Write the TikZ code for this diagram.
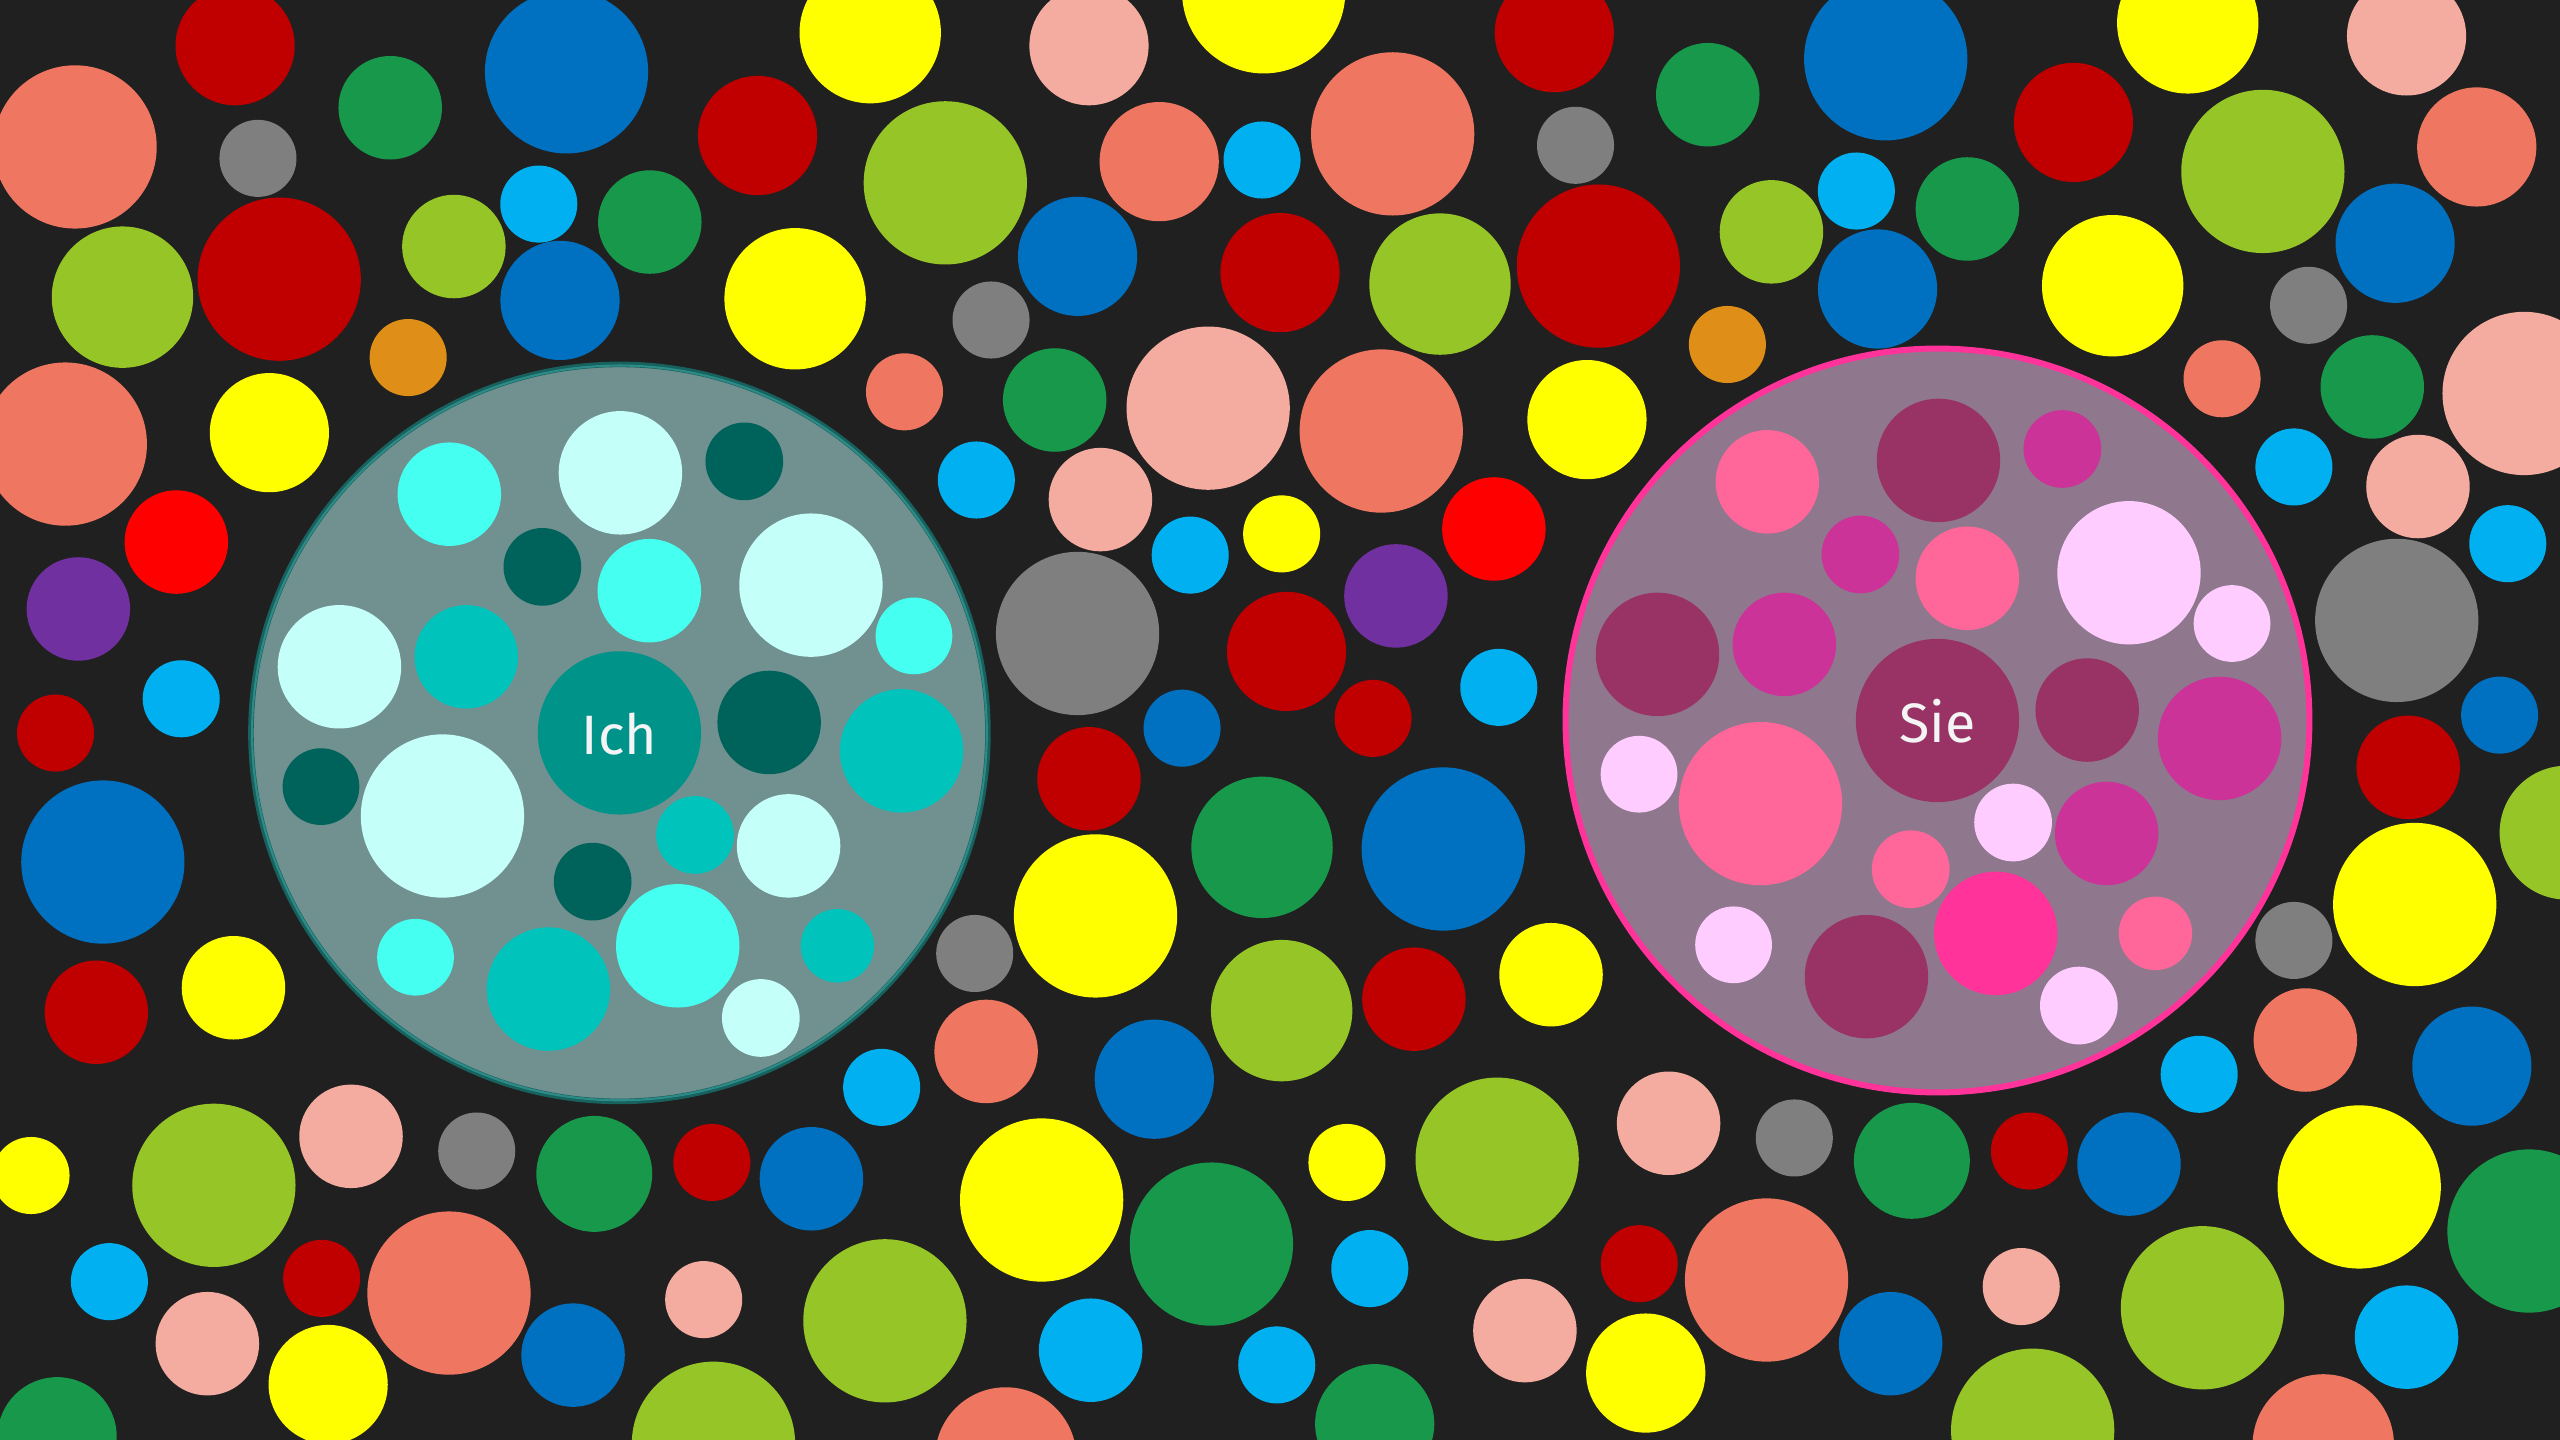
\documentclass[tikz,border=0pt]{standalone}
\usepackage{fontspec}
\newfontfamily\labelfont{Fira Sans}
\usetikzlibrary{positioning}

\definecolor{bgdark}{HTML}{202020}
\definecolor{sal}{HTML}{EF7762}
\definecolor{pale}{HTML}{F4ACA0}
\definecolor{dred}{HTML}{C00000}
\definecolor{bred}{HTML}{FF0000}
\definecolor{yel}{HTML}{FFFF00}
\definecolor{lgrn}{HTML}{95C526}
\definecolor{grn}{HTML}{18984A}
\definecolor{blu}{HTML}{0070C0}
\definecolor{lblu}{HTML}{00B0F0}
\definecolor{gry}{HTML}{7F7F7F}
\definecolor{org}{HTML}{DF8F18}
\definecolor{pur}{HTML}{7030A0}
% Ich
\definecolor{ichfill}{HTML}{719090}
\definecolor{ichrim}{HTML}{17625E}
\definecolor{ichrimlight}{HTML}{2C8B86}
\definecolor{ichcore}{HTML}{00938A}
\definecolor{ichA}{HTML}{C4FFFA}
\definecolor{ichB}{HTML}{45FFF0}
\definecolor{ichC}{HTML}{00C4BC}
\definecolor{ichD}{HTML}{00635B}
% Sie
\definecolor{siefill}{HTML}{8F788E}
\definecolor{sierim}{HTML}{FF3399}
\definecolor{sieA}{HTML}{FFCCFF}
\definecolor{sieB}{HTML}{FF6699}
\definecolor{sieC}{HTML}{CC3399}
\definecolor{sieD}{HTML}{993366}
\definecolor{sieE}{HTML}{FF3399}
\definecolor{labelwhite}{HTML}{F4F4F4}

\tikzset{
  lbl/.style={text=labelwhite, inner sep=0pt, font=\labelfont\fontsize{34}{40}\selectfont},
  ichring/.style={fill=ichfill, draw=ichrim, line width=3.4pt},
  siering/.style={fill=siefill, draw=sierim, line width=3.7pt}
}

\begin{document}
\begin{tikzpicture}[x=1pt, y=-1pt]
\path[use as bounding box] (0,0) rectangle (1568,882);
\clip (0,0) rectangle (1568,882);
\fill[bgdark] (0,0) rectangle (1568,882);

% salmon
\fill[sal] (46,90) circle (50);
\fill[sal] (40,272) circle (50);
\fill[sal] (275,792) circle (50);
\fill[sal] (616,893) circle (43.3);
\fill[sal] (604,644) circle (31.7);
\fill[sal] (554,240) circle (23.6);
\fill[sal] (710,99) circle (36.5);
\fill[sal] (853,82) circle (50);
\fill[sal] (846,264) circle (50);
\fill[sal] (1082,784) circle (50);
\fill[sal] (1423,885) circle (43.3);
\fill[sal] (1412,637) circle (31.7);
\fill[sal] (1361,232) circle (23.6);
\fill[sal] (1517,90) circle (36.5);
% pale
\fill[pale] (215,696) circle (31.7);
\fill[pale] (127,823) circle (31.7);
\fill[pale] (431,796) circle (23.6);
\fill[pale] (667,28) circle (36.5);
\fill[pale] (674,306) circle (31.7);
\fill[pale] (740,250) circle (50);
\fill[pale] (1022,688) circle (31.7);
\fill[pale] (934,815) circle (31.7);
\fill[pale] (1238,788) circle (23.6);
\fill[pale] (1474,22) circle (36.5);
\fill[pale] (1481,298) circle (31.7);
\fill[pale] (1546,241) circle (50);
% dark red
\fill[dred] (144,28) circle (36.5);
\fill[dred] (171,171) circle (50);
\fill[dred] (34,449) circle (23.6);
\fill[dred] (59,620) circle (31.7);
\fill[dred] (436,712) circle (23.6);
\fill[dred] (197,783) circle (23.6);
\fill[dred] (464,83) circle (36.5);
\fill[dred] (784,167) circle (36.5);
\fill[dred] (667,477) circle (31.7);
\fill[dred] (788,399) circle (36.5);
\fill[dred] (841,440) circle (23.6);
\fill[dred] (866,612) circle (31.7);
\fill[dred] (952,20) circle (36.5);
\fill[dred] (979,163) circle (50);
\fill[dred] (1004,774) circle (23.6);
\fill[dred] (1243,705) circle (23.6);
\fill[dred] (1270,75) circle (36.5);
\fill[dred] (1475,470) circle (31.7);
% red
\fill[bred] (108,332) circle (31.7);
\fill[bred] (915,324) circle (31.7);
% yellow
\fill[yel] (165,265) circle (36.5);
\fill[yel] (143,605) circle (31.7);
\fill[yel] (19,720) circle (23.6);
\fill[yel] (201,848) circle (36.5);
\fill[yel] (533,20) circle (43.3);
\fill[yel] (487,183) circle (43.3);
\fill[yel] (638,735) circle (50);
\fill[yel] (671,561) circle (50);
\fill[yel] (774,-5) circle (50);
\fill[yel] (785,327) circle (23.6);
\fill[yel] (825,712) circle (23.6);
\fill[yel] (950,597) circle (31.7);
\fill[yel] (972,257) circle (36.5);
\fill[yel] (1008,841) circle (36.5);
\fill[yel] (1294,175) circle (43.3);
\fill[yel] (1340,14) circle (43.3);
\fill[yel] (1445,727) circle (50);
\fill[yel] (1479,554) circle (50);
% light green
\fill[lgrn] (75,182) circle (43.3);
\fill[lgrn] (278,151) circle (31.7);
\fill[lgrn] (131,726) circle (50);
\fill[lgrn] (437,884) circle (50);
\fill[lgrn] (542,809) circle (50);
\fill[lgrn] (579,112) circle (50);
\fill[lgrn] (785,619) circle (43.3);
\fill[lgrn] (882,174) circle (43.3);
\fill[lgrn] (917,710) circle (50);
\fill[lgrn] (1085,142) circle (31.7);
\fill[lgrn] (1245,876) circle (50);
\fill[lgrn] (1349,801) circle (50);
\fill[lgrn] (1386,105) circle (50);
\fill[lgrn] (1572,510) circle (41);
% green
\fill[grn] (239,66) circle (31.7);
\fill[grn] (398,136) circle (31.7);
\fill[grn] (364,719) circle (35.5);
\fill[grn] (35,880) circle (36.5);
\fill[grn] (646,245) circle (31.7);
\fill[grn] (742,762) circle (50);
\fill[grn] (773,519) circle (43.3);
\fill[grn] (842,872) circle (36.5);
\fill[grn] (1046,58) circle (31.7);
\fill[grn] (1205,128) circle (31.7);
\fill[grn] (1171,711) circle (35.5);
\fill[grn] (1453,237) circle (31.7);
\fill[grn] (1549,754) circle (50);
% blue
\fill[blu] (347,44) circle (50);
\fill[blu] (343,184) circle (36.5);
\fill[blu] (63,528) circle (50);
\fill[blu] (497,722) circle (31.7);
\fill[blu] (351,830) circle (31.7);
\fill[blu] (660,157) circle (36.5);
\fill[blu] (707,661) circle (36.5);
\fill[blu] (724,446) circle (23.6);
\fill[blu] (884,520) circle (50);
\fill[blu] (1155,36) circle (50);
\fill[blu] (1150,177) circle (36.5);
\fill[blu] (1158,823) circle (31.7);
\fill[blu] (1304,713) circle (31.7);
\fill[blu] (1467,149) circle (36.5);
\fill[blu] (1514,653) circle (36.5);
\fill[blu] (1531,438) circle (23.6);
% light blue
\fill[lblu] (330,125) circle (23.6);
\fill[lblu] (111,428) circle (23.6);
\fill[lblu] (67,785) circle (23.6);
\fill[lblu] (540,666) circle (23.6);
\fill[lblu] (598,294) circle (23.6);
\fill[lblu] (668,827) circle (31.7);
\fill[lblu] (729,340) circle (23.6);
\fill[lblu] (773,98) circle (23.6);
\fill[lblu] (782,836) circle (23.6);
\fill[lblu] (839,777) circle (23.6);
\fill[lblu] (918,421) circle (23.6);
\fill[lblu] (1137,117) circle (23.6);
\fill[lblu] (1347,658) circle (23.6);
\fill[lblu] (1405,286) circle (23.6);
\fill[lblu] (1474,819) circle (31.7);
\fill[lblu] (1536,333) circle (23.6);
% gray
\fill[gry] (158,97) circle (23.6);
\fill[gry] (292,705) circle (23.6);
\fill[gry] (597,584) circle (23.6);
\fill[gry] (607,196) circle (23.6);
\fill[gry] (660,388) circle (50);
\fill[gry] (965,89) circle (23.6);
\fill[gry] (1099,697) circle (23.6);
\fill[gry] (1405,576) circle (23.6);
\fill[gry] (1414,187) circle (23.6);
\fill[gry] (1468,380) circle (50);
% orange, purple
\fill[org] (250,219) circle (23.6);
\fill[org] (1058,211) circle (23.6);
\fill[pur] (48,373) circle (31.7);
\fill[pur] (855,365) circle (31.7);

% Ich
\begin{scope}[shift={(379.4,448.9)}]
\path[ichring] (0,0) circle (225.7);
\draw[ichrimlight, line width=1.3pt] (0,0) circle (225);
\fill[ichB] (-104.2,-146.2) circle (31.7);
\fill[ichA] (0.6,-159.3) circle (37.8);
\fill[ichD] (76.5,-166.3) circle (23.8);
\fill[ichD] (-47.2,-101.7) circle (23.8);
\fill[ichB] (18.3,-87.1) circle (31.7);
\fill[ichA] (117.3,-90.5) circle (43.9);
\fill[ichB] (180.4,-59.4) circle (23.5);
\fill[ichA] (-171.5,-40.5) circle (37.8);
\fill[ichC] (-93.8,-46.6) circle (31.7);
\fill[ichD] (91.7,-6.4) circle (31.7);
\fill[ichC] (172.8,11) circle (37.8);
\fill[ichD] (-182.8,32.9) circle (23.5);
\fill[ichA] (-108.4,50.9) circle (50);
\fill[ichC] (46.3,62.5) circle (23.8);
\fill[ichA] (103.6,69.2) circle (31.7);
\fill[ichD] (-16.4,91.1) circle (23.8);
\fill[ichB] (35.7,130.4) circle (37.8);
\fill[ichB] (-124.9,137.4) circle (23.5);
\fill[ichC] (-43.5,156.9) circle (37.8);
\fill[ichC] (133.5,130.4) circle (22.5);
\fill[ichA] (86.6,174.6) circle (23.8);
\fill[ichcore] (0,0) circle (50);
\end{scope}
\node[lbl] (ich) at (379.4,449.5) {Ich};

% Sie
\begin{scope}[shift={(1186.7,441.3)}]
\path[siering] (0,0) circle (227.8);
\fill[sieB] (-104.2,-146.2) circle (31.7);
\fill[sieD] (0.6,-159.3) circle (37.8);
\fill[sieC] (76.5,-166.3) circle (23.8);
\fill[sieC] (-47.2,-101.7) circle (23.8);
\fill[sieB] (18.3,-87.1) circle (31.7);
\fill[sieA] (117.3,-90.5) circle (43.9);
\fill[sieA] (180.4,-59.4) circle (23.5);
\fill[sieD] (-171.5,-40.5) circle (37.8);
\fill[sieC] (-93.8,-46.6) circle (31.7);
\fill[sieD] (91.7,-6.4) circle (31.7);
\fill[sieC] (172.8,11) circle (37.8);
\fill[sieA] (-182.8,32.9) circle (23.5);
\fill[sieB] (-108.4,50.9) circle (50);
\fill[sieA] (46.3,62.5) circle (23.8);
\fill[sieC] (103.6,69.2) circle (31.7);
\fill[sieB] (-16.4,91.1) circle (23.8);
\fill[sieE] (35.7,130.4) circle (37.8);
\fill[sieA] (-124.9,137.4) circle (23.5);
\fill[sieD] (-43.5,156.9) circle (37.8);
\fill[sieB] (133.5,130.4) circle (22.5);
\fill[sieA] (86.6,174.6) circle (23.8);
\fill[sieD] (0,0) circle (50);
\end{scope}
\node[lbl] (sie) at (1186.7,442) {Sie};
\end{tikzpicture}
\end{document}
